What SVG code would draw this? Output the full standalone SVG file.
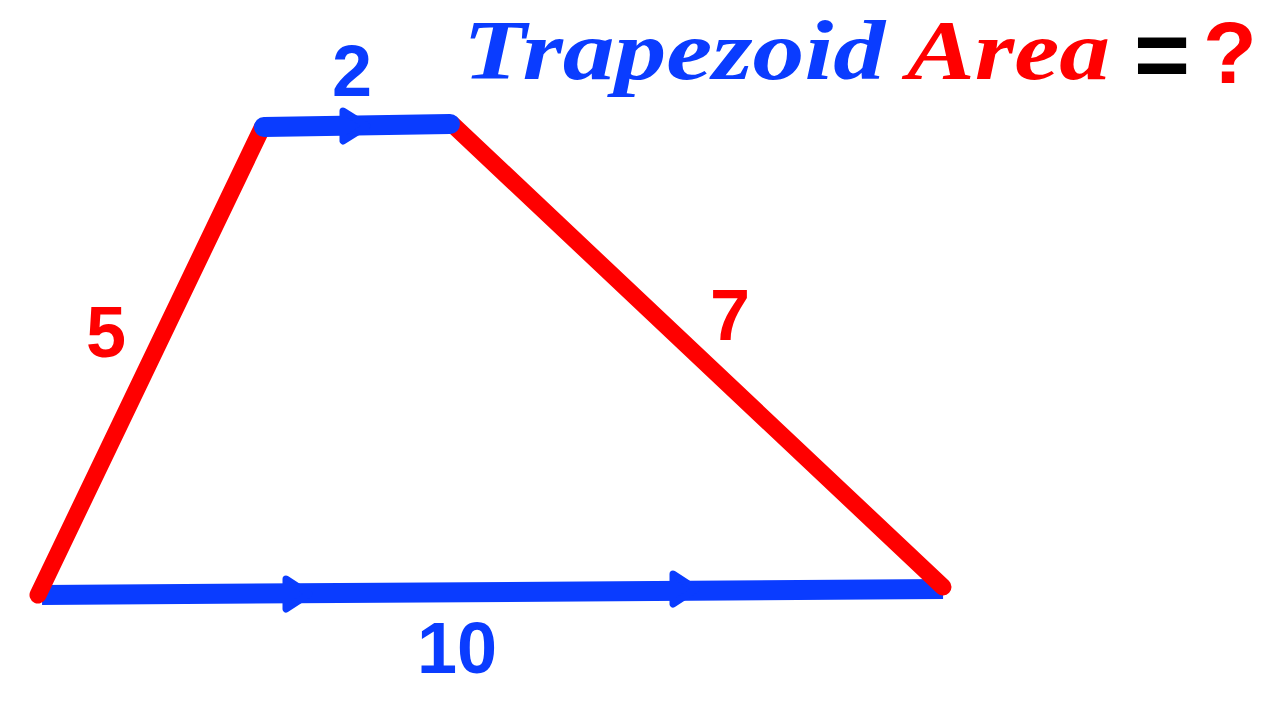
<svg xmlns="http://www.w3.org/2000/svg" width="1280" height="720" viewBox="0 0 1280 720">
<style>
.red{stroke:#ff0000;stroke-width:17;stroke-linecap:round;fill:none}
.blue{stroke:#0a3cff;stroke-width:20;stroke-linecap:round;fill:none}
.arr{fill:#0a3cff;stroke:#0a3cff;stroke-width:7;stroke-linejoin:round}
.num{font-family:"Liberation Sans",Arial,sans-serif;font-weight:bold;font-size:72px;text-anchor:middle}
.title{font-family:"Liberation Serif","Times New Roman",serif;font-weight:bold;font-style:italic;font-size:84px}
</style>
<rect width="1280" height="720" fill="#ffffff"/>
<g id="connectors">
  <line class="blue" x1="42" y1="595" x2="943" y2="589" style="stroke-linecap:butt"/>
  <line class="red" x1="38" y1="595" x2="262" y2="128"/>
  <line class="red" x1="452" y1="124" x2="943" y2="587"/>
  <line class="blue" x1="264" y1="127" x2="450" y2="124"/>
  <polygon class="arr" points="343,111 367,126 343,141"/>
  <polygon class="arr" points="286,579 309,594 286,609"/>
  <polygon class="arr" points="673,574 696,589 673,604"/>
</g>
<g id="label-2"><text class="num" x="352" y="96" fill="#0a3cff">2</text></g>
<g id="label-5"><text class="num" x="106" y="357" fill="#ff0000">5</text></g>
<g id="label-7"><text class="num" x="730" y="340" fill="#ff0000">7</text></g>
<g id="label-10"><text class="num" x="457" y="673" fill="#0a3cff">10</text></g>
<g id="title">
  <text class="title" x="463" y="79" fill="#0a3cff" textLength="422" lengthAdjust="spacingAndGlyphs">Trapezoid</text>
  <text class="title" x="907" y="79" fill="#ff0000" textLength="203" lengthAdjust="spacingAndGlyphs">Area</text>
  <text x="1162" y="88" fill="#000000" font-family="Liberation Sans,Arial,sans-serif" font-weight="bold" font-size="96" text-anchor="middle">=</text>
  <text x="1230" y="83" fill="#ff0000" font-family="Liberation Sans,Arial,sans-serif" font-weight="bold" font-size="88" text-anchor="middle">?</text>
</g>
</svg>
